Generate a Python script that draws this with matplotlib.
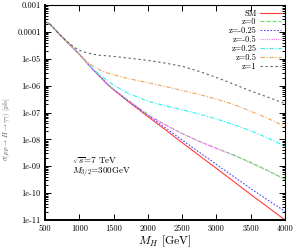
import numpy as np
import matplotlib
matplotlib.use("Agg")
import matplotlib.pyplot as plt
from matplotlib.ticker import FixedLocator, FixedFormatter, LogLocator, NullFormatter, NullLocator

plt.rcParams['font.family'] = ['cmr10', 'DejaVu Serif']
plt.rcParams['mathtext.fontset'] = 'cm'
plt.rcParams['axes.unicode_minus'] = False
plt.rcParams['axes.formatter.use_mathtext'] = True

# Higgs mass grid [GeV]
mh = [500, 525, 550, 575, 600, 650, 700, 800, 900, 1000, 1100, 1200, 1300,
      1400, 1500, 1700, 2000, 2250, 2500, 2750, 3000, 3250, 3500, 3750, 4000]

sm = [2.29e-4, 2.24e-4, 2.14e-4, 1.91e-4, 1.62e-4, 1.20e-4, 8.71e-5, 4.79e-5,
      2.69e-5, 1.48e-5, 7.59e-6, 3.98e-6, 2.19e-6, 1.20e-6, 7.08e-7, 2.75e-7,
      7.08e-8, 2.34e-8, 7.59e-9, 2.51e-9, 8.32e-10, 2.75e-10, 8.91e-11,
      3.02e-11, 1.0e-11]

z0 = [2.29e-4, 2.24e-4, 2.14e-4, 1.91e-4, 1.62e-4, 1.20e-4, 8.71e-5, 4.79e-5,
      2.69e-5, 1.48e-5, 7.59e-6, 3.98e-6, 2.19e-6, 1.20e-6, 7.24e-7, 3.02e-7,
      8.32e-8, 3.55e-8, 1.66e-8, 8.51e-9, 4.68e-9, 2.63e-9, 1.38e-9,
      6.92e-10, 3.31e-10]

zm025 = [2.29e-4, 2.24e-4, 2.14e-4, 1.91e-4, 1.62e-4, 1.20e-4, 8.71e-5, 4.79e-5,
         2.69e-5, 1.48e-5, 7.59e-6, 3.98e-6, 2.19e-6, 1.20e-6, 7.10e-7, 2.78e-7,
         7.94e-8, 2.75e-8, 9.55e-9, 3.31e-9, 1.17e-9, 4.17e-10, 1.48e-10,
         5.5e-11, 2.09e-11]

zm05 = [2.29e-4, 2.24e-4, 2.14e-4, 1.91e-4, 1.62e-4, 1.20e-4, 8.71e-5, 4.79e-5,
        2.69e-5, 1.48e-5, 7.59e-6, 3.98e-6, 2.19e-6, 1.20e-6, 7.2e-7, 3.0e-7,
        8.2e-8, 3.5e-8, 1.63e-8, 8.3e-9, 4.57e-9, 2.57e-9, 1.35e-9,
        6.76e-10, 3.24e-10]

z025 = [2.29e-4, 2.24e-4, 2.14e-4, 1.91e-4, 1.62e-4, 1.20e-4, 8.71e-5, 4.79e-5,
        2.69e-5, 1.48e-5, 7.59e-6, 4.17e-6, 2.51e-6, 1.58e-6, 1.05e-6, 5.37e-7,
        2.63e-7, 1.78e-7, 1.26e-7, 8.71e-8, 5.75e-8, 3.55e-8, 2.09e-8,
        1.12e-8, 5.62e-9]

z05 = [2.29e-4, 2.24e-4, 2.14e-4, 1.91e-4, 1.62e-4, 1.20e-4, 8.71e-5, 4.79e-5,
       2.69e-5, 1.51e-5, 8.32e-6, 5.37e-6, 3.80e-6, 3.02e-6, 2.51e-6, 1.86e-6,
       1.29e-6, 9.33e-7, 6.61e-7, 4.68e-7, 3.16e-7, 2.0e-7, 1.12e-7,
       6.03e-8, 3.02e-8]

z1 = [2.29e-4, 2.24e-4, 2.14e-4, 1.91e-4, 1.62e-4, 1.20e-4, 8.71e-5, 4.9e-5,
      3.02e-5, 2.04e-5, 1.70e-5, 1.48e-5, 1.35e-5, 1.29e-5, 1.23e-5, 1.07e-5,
      8.71e-6, 6.92e-6, 5.25e-6, 3.39e-6, 2.0e-6, 1.15e-6, 6.31e-7,
      3.72e-7, 2.14e-7]

labels = ["SM", "z=0", "z=-0.25", "z=-0.5", "z=0.25", "z=0.5", "z=1"]

xticks = [500, 1000, 1500, 2000, 2500, 3000, 3500, 4000]
yticks = [1e-3, 1e-4, 1e-5, 1e-6, 1e-7, 1e-8, 1e-9, 1e-10, 1e-11]
ytick_labels = ["0.001", "0.0001", "1e-05", "1e-06", "1e-07", "1e-08",
                "1e-09", "1e-10", "1e-11"]

fig = plt.figure(figsize=(2.97, 2.48), dpi=100)
ax = fig.add_axes([0.1515, 0.1129, 0.808, 0.8669])

series = [sm, z0, zm025, zm05, z025, z05, z1]
colors = ['#ff3c3c', '#5ee05e', '#4a4aff', '#ff6cff', '#2ef2f2', '#f0a860', '#606060']
styles = ['-', (0, (3.5, 2)), (0, (1.5, 1.5)), (0, (1, 1)),
          (0, (4, 1.5, 1, 1.5)), (0, (4, 1.5, 1, 1.5)), (0, (2, 2.5))]

for y, lab, c, ls in zip(series, labels, colors, styles):
    ax.plot(mh, y, color=c, linestyle=ls, linewidth=0.8, label=lab)

ax.set_yscale('log')
ax.set_xlim(500, 4000)
ax.set_ylim(1e-11, 1e-3)

ax.xaxis.set_major_locator(FixedLocator(xticks))
ax.xaxis.set_major_formatter(FixedFormatter([str(v) for v in xticks]))
ax.xaxis.set_minor_locator(NullLocator())
ax.yaxis.set_major_locator(FixedLocator(yticks))
ax.yaxis.set_major_formatter(FixedFormatter(ytick_labels))
ax.yaxis.set_minor_locator(LogLocator(base=10, subs=np.arange(2, 10), numticks=20))
ax.yaxis.set_minor_formatter(NullFormatter())

ax.tick_params(which='both', direction='in', top=True, right=True,
               labelsize=6, pad=3, width=0.7)
ax.tick_params(which='major', length=4)
ax.tick_params(which='minor', length=2)

for side in ['left', 'bottom']:
    ax.spines[side].set_linewidth(1.4)
for side in ['top', 'right']:
    ax.spines[side].set_linewidth(0.8)

ax.set_xlabel("$M_H$ [GeV]", fontsize=8.5, labelpad=1)
ax.set_ylabel(r"$\sigma(pp \to H \to \gamma\gamma)$ [pb]", fontsize=5,
              color='#555555')
ax.yaxis.set_label_coords(-0.138, 0.42)

ax.text(0.112, 0.274, r"$\sqrt{s}$=7 TeV", transform=ax.transAxes,
        fontsize=6.5, ha='left', va='center')
ax.text(0.112, 0.219, r"$M_{3/2}$=300GeV", transform=ax.transAxes,
        fontsize=6.5, ha='left', va='center')

leg = ax.legend(loc='upper right', markerfirst=False, frameon=False,
                fontsize=6, labelspacing=0.05, handlelength=2.5,
                handletextpad=0.4, borderaxespad=0.3, borderpad=0.2)

fig.savefig("out.png", dpi=100)
